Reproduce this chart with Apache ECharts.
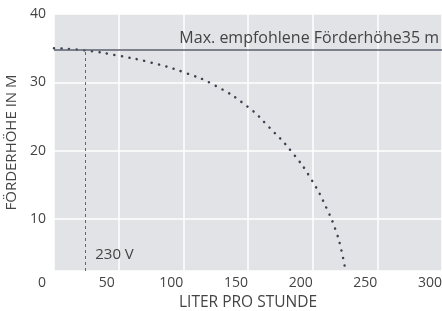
<!DOCTYPE html>
<html>
<head>
<meta charset="utf-8">
<script src="https://cdn.jsdelivr.net/npm/echarts@6/dist/echarts.min.js"></script>
<style>
    html, body { margin: 0; padding: 0; background: #fff; }
    #chart { width: 442px; height: 311px; }
</style>
</head>
<body>
<div id="chart"></div>
<script>
// Pumpenkennlinie (Liter pro Stunde -> Förderhöhe in m)
var curveFlow = [0, 25, 50, 75, 100, 125, 150, 166, 184, 199, 211, 218.5, 222, 225];
var curveHead = [35.0, 34.65, 33.9, 32.9, 31.5, 29.5, 26.4, 23.5, 19.8, 15.8, 11.5, 8.0, 5.6, 2.9];
var maxHead = 34.75;
var maxLabel = 'Max. empfohlene Förderhöhe35 m';
var voltFlow = 24.5;
var voltLabel = '230 V';
var xTicks = [0, 50, 100, 150, 200, 250, 300];
var yTicks = [10, 20, 30, 40];
var yMin = 2.42;

(function () {
    var myChart = echarts.init(document.getElementById('chart'));
    var font = '"Open Sans", "Noto Sans", sans-serif';
    var textColor = '#444';

    var curveData = curveFlow.map(function (x, i) {
        return [x, curveHead[i]];
    });

    var option = {
        animation: false,
        textStyle: {fontFamily: font},
        grid: {
            left: 54,
            right: 0,
            top: 14,
            bottom: 40,
            outerBoundsMode: 'none',
            containLabel: false,
            show: true,
            backgroundColor: '#e2e3e7',
            borderWidth: 0
        },
        xAxis: {
            type: 'value',
            min: xTicks[0],
            max: xTicks[xTicks.length - 1],
            interval: 50,
            name: 'LITER PRO STUNDE',
            nameLocation: 'middle',
            nameGap: 24,
            nameTextStyle: {color: textColor, fontSize: 15.5, fontFamily: font},
            axisLine: {show: false},
            axisTick: {show: false},
            axisLabel: {
                color: textColor,
                fontSize: 14,
                fontFamily: font,
                margin: 5,
                padding: [0, 24, 0, 0],
                showMaxLabel: true
            },
            splitLine: {show: true, lineStyle: {color: '#fff', width: 1.5}}
        },
        yAxis: {
            type: 'value',
            min: yMin,
            max: yTicks[yTicks.length - 1],
            name: 'FÖRDERHÖHE IN M',
            nameLocation: 'middle',
            nameGap: 34,
            nameTextStyle: {color: textColor, fontSize: 15, fontFamily: font},
            axisLine: {show: false},
            axisTick: {show: false},
            axisLabel: {
                color: textColor,
                fontSize: 14,
                fontFamily: font,
                margin: 8,
                formatter: function (v) {
                    return yTicks.indexOf(Math.round(v * 100) / 100) >= 0 ? String(v) : '';
                }
            },
            splitLine: {show: true, lineStyle: {color: '#fff', width: 1.5}}
        },
        series: [
            {
                type: 'line',
                data: curveData,
                smooth: true,
                symbol: 'none',
                clip: true,
                lineStyle: {color: '#3c4150', width: 2.5, type: [0.1, 7.5], cap: 'round'},
                markLine: {
                    silent: true,
                    symbol: 'none',
                    data: [
                        {
                            yAxis: maxHead,
                            lineStyle: {color: '#5a606c', width: 1.5, type: 'solid'},
                            label: {
                                show: true,
                                position: 'insideEndTop',
                                formatter: maxLabel,
                                color: textColor,
                                fontSize: 16,
                                fontFamily: font,
                                distance: [3, 3]
                            }
                        },
                        [
                            {coord: [voltFlow, yMin], lineStyle: {color: '#666', width: 1, type: [3, 3]}, label: {show: false}},
                            {coord: [voltFlow, maxHead]}
                        ]
                    ]
                },
                markPoint: {
                    silent: true,
                    symbol: 'circle',
                    symbolSize: 0,
                    data: [{coord: [voltFlow + 22.3, 4.86], value: voltLabel}],
                    label: {
                        show: true,
                        position: 'inside',
                        formatter: voltLabel,
                        color: textColor,
                        fontSize: 15,
                        fontFamily: font
                    }
                }
            }
        ]
    };

    myChart.setOption(option);
})();
</script>
</body>
</html>
